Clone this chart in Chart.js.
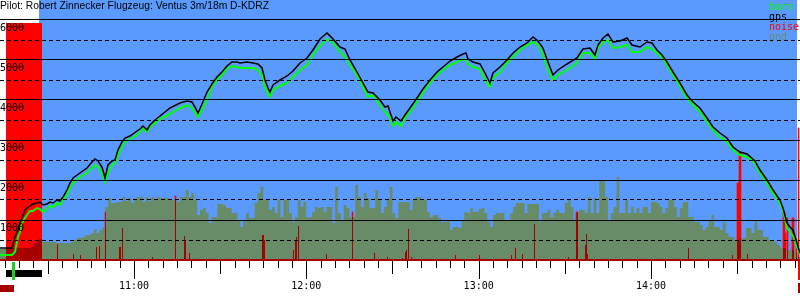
<!DOCTYPE html>
<html><head><meta charset="utf-8">
<script src="https://cdn.jsdelivr.net/npm/chart.js@4/dist/chart.umd.min.js"></script>
<style>html,body{margin:0;padding:0;background:#fff}canvas{display:block}</style>
</head><body>
<canvas id="c" width="800" height="300"></canvas>
<script>
// ---------- data (time = minutes since midnight, altitude in m) ----------
const trackTime = [613.35,617.53,618.57,619.62,620.31,621.01,622.05,622.75,623.79,624.84,626.23,627.28,628.32,629.71,630.76,631.80,633.20,634.24,635.28,636.68,637.72,638.77,641.20,643.64,645.38,646.43,647.47,648.86,649.91,650.95,652.34,653.39,654.43,655.83,656.87,658.61,661.05,662.09,663.14,664.53,665.57,667.31,669.06,672.54,676.02,678.46,680.20,681.24,682.29,683.68,685.42,687.16,688.90,690.64,692.38,694.12,695.86,696.91,699.35,701.43,703.17,704.57,705.61,706.66,707.35,708.40,710.83,713.27,715.36,717.80,720.23,722.32,724.76,727.20,729.29,731.72,733.47,735.21,737.64,739.73,741.47,743.21,745.65,747.39,748.44,749.13,750.18,751.22,752.96,754.35,756.10,758.53,760.62,763.06,765.50,767.59,770.02,772.46,774.55,775.59,776.29,778.03,780.47,782.21,783.95,784.99,787.43,789.87,791.96,794.39,796.83,798.92,800.66,802.40,804.14,805.88,807.62,810.75,814.23,816.32,818.76,820.50,821.55,823.29,825.03,826.77,829.21,831.65,833.39,836.17,838.61,840.35,842.09,843.83,845.57,847.66,850.10,852.54,854.63,857.06,859.50,861.59,864.03,866.46,868.55,870.99,873.43,876.21,877.95,880.39,882.48,884.91,885.96,887.35,888.39,889.44,890.83,891.88];
const baro = [125,125,200,575,700,925,1050,1125,1225,1225,1300,1275,1200,1275,1350,1325,1425,1375,1500,1625,1800,1925,2075,2175,2300,2375,2325,2175,1950,2175,2375,2425,2625,2825,2950,3025,3125,3200,3300,3200,3325,3425,3525,3650,3800,3875,3800,3675,3575,3750,4000,4325,4500,4625,4775,4850,4825,4800,4800,4800,4750,4625,4325,4150,4075,4250,4350,4425,4575,4750,4875,5125,5350,5525,5425,5200,5075,4875,4625,4325,4075,4125,3875,3700,3625,3550,3350,3450,3350,3550,3700,3950,4175,4425,4625,4750,4875,4950,5025,5000,4900,4825,4775,4500,4325,4550,4700,4925,5075,5250,5375,5450,5375,5125,4750,4500,4625,4750,4925,5175,5175,5025,5300,5450,5500,5300,5325,5375,5200,5200,5325,5275,5175,5075,4875,4625,4350,4050,3875,3700,3450,3250,3075,2950,2750,2625,2575,2425,2175,1925,1675,1425,1250,800,700,600,325,150];
const gps = [300,300,575,750,925,1050,1250,1300,1350,1400,1425,1450,1375,1400,1450,1425,1500,1475,1575,1750,1925,2050,2175,2300,2450,2525,2475,2325,2050,2375,2475,2500,2750,2950,3050,3100,3225,3275,3350,3250,3375,3500,3600,3800,3925,3975,3950,3825,3675,3900,4200,4400,4575,4700,4850,4950,4950,4925,4950,4925,4900,4800,4500,4300,4200,4375,4500,4600,4725,4925,5050,5250,5525,5675,5525,5325,5275,5000,4700,4425,4200,4175,4000,3825,3850,3700,3475,3575,3475,3625,3800,4050,4275,4500,4700,4825,4975,5075,5150,5175,5025,4950,4900,4675,4425,4675,4825,5000,5175,5325,5425,5575,5475,5300,4950,4625,4750,4900,5050,5275,5300,5125,5375,5550,5650,5450,5475,5550,5375,5325,5450,5425,5250,5125,4950,4700,4425,4125,3950,3800,3550,3325,3175,3050,2825,2700,2650,2475,2250,2000,1750,1500,1300,925,825,750,425,175];

const gndTime = [613,614,615,616,617,618,619,620,621,622,623,624,625,626,627,628,629,630,631,632,633,634,635,636,637,638,639,640,641,642,643,644,645,646,647,648,649,650,651,652,653,654,655,656,657,658,659,660,661,662,663,664,665,666,667,668,669,670,671,672,673,674,675,676,677,678,679,680,681,682,683,684,685,686,687,688,689,690,691,692,693,694,695,696,697,698,699,700,701,702,703,704,705,706,707,708,709,710,711,712,713,714,715,716,717,718,719,720,721,722,723,724,725,726,727,728,729,730,731,732,733,734,735,736,737,738,739,740,741,742,743,744,745,746,747,748,749,750,751,752,753,754,755,756,757,758,759,760,761,762,763,764,765,766,767,768,769,770,771,772,773,774,775,776,777,778,779,780,781,782,783,784,785,786,787,788,789,790,791,792,793,794,795,796,797,798,799,800,801,802,803,804,805,806,807,808,809,810,811,812,813,814,815,816,817,818,819,820,821,822,823,824,825,826,827,828,829,830,831,832,833,834,835,836,837,838,839,840,841,842,843,844,845,846,847,848,849,850,851,852,853,854,855,856,857,858,859,860,861,862,863,864,865,866,867,868,869,870,871,872,873,874,875,876,877,878,879,880,881,882,883,884,885,886,887,888,889,890,891,892];
const gnd = [275,275,300,300,300,300,300,300,300,300,
300,325,425,475,525,450,450,450,450,450,
425,425,425,425,425,450,500,550,550,575,
625,625,675,775,675,750,825,1325,1550,1425,
1425,1450,1450,1575,1475,1550,1425,1500,1575,1575,
1450,1575,1475,1575,1500,1575,1550,1550,1550,1500,
1500,1500,1450,1575,1575,1750,1575,1675,1500,1125,
1250,1300,1175,925,1075,1075,1400,1400,1375,1300,
1300,1175,1175,1000,825,1000,1175,1050,1050,1425,
1675,1825,1500,1500,1250,1325,1175,1500,1075,1500,
1500,1175,950,1075,1500,1325,1450,1075,1075,1200,
1325,1300,1325,1200,1325,1325,925,1825,1175,1000,
1375,1300,1075,1075,1875,1575,1325,1675,1550,1300,
1300,1750,1500,1175,1325,1500,1825,1175,1050,1450,
1450,1450,1450,1250,1500,1575,1575,1500,1500,1200,
1075,1125,1125,1050,950,950,1000,750,825,825,
800,1000,1200,1175,1300,1200,1200,1275,1300,1175,
950,825,1125,1175,1175,1175,1000,1000,1175,1325,
1425,1425,1425,1175,1400,1400,1400,1400,950,1175,
1175,1250,1075,1175,1250,1175,1175,1425,1500,1325,
1000,1175,1250,1250,1175,1575,1175,1550,1175,2000,
2000,1575,1000,1175,1325,2075,1175,1175,1500,1175,
1325,1175,1300,1175,1325,1325,1175,1450,1450,1425,
1325,1175,1300,1500,1500,1325,1075,1300,1450,1450,
1075,1075,950,950,875,750,825,1000,1125,825,
825,750,950,675,575,575,500,500,550,550,
800,800,675,1000,750,750,575,575,500,500,
450,375,300,300,250,250,250,175,75,75];

const noiseTime = [633.37,638.94,641.38,646.95,647.99,650.08,654.96,655.30,656.00,666.44,674.45,677.59,677.93,679.33,694.65,704.74,705.09,705.44,715.53,716.23,716.58,717.28,727.02,736.08,743.74,748.26,753.48,754.53,754.88,755.57,756.62,771.94,780.29,791.43,792.83,795.27,799.44,811.28,814.07,814.41,817.20,817.55,817.89,853.06,864.20,868.38,870.12,870.47,870.81,871.16,873.60,886.13,886.48,886.83,887.53,889.27,889.62,890.66,891.36];
const noise = [400,150,125,325,350,1200,325,325,800,75,1600,600,500,175,25,625,625,500,250,500,575,850,150,1200,175,75,50,200,250,775,75,125,125,125,300,150,900,75,1200,1200,375,650,150,300,25,125,1925,1925,2700,2700,150,1200,1200,675,1050,1050,1050,500,3300];

const hourTicks = [660, 720, 780, 840];
const hourLabels = ['11:00', '12:00', '13:00', '14:00'];
const altTicks = [1000, 2000, 3000, 4000, 5000, 6000];
const altLabels = ['1000', '2000', '3000', '4000', '5000', '6000'];
const legendNames = ['baro', 'gps', 'noise', 'gnd'];
const titleText = 'Pilot: Robert Zinnecker Flugzeug: Ventus 3m/18m D-KDRZ';

// ---------- axis range / phases ----------
const T_MIN = 613.35, T_MAX = 891.88;
const ENGINE_START = 615.44, ENGINE_END = 627.97;   // red band / black bar
const BLUE_START = 626.93, BLUE_END = 890.84;
const TAKEOFF = 618.05, LANDING = 891.36;

// ---------- styles ----------
const BLUE = '#5a9aff', RED = '#ff0000', DARKRED = '#a60000', OLIVE = '#688c68';
const GREEN = '#00ff00';
const legendColors = [GREEN, '#000000', RED, OLIVE];
const MONO = '10px "DejaVu Sans Mono", monospace';

function gndFill(ctx) {
  const chart = ctx.chart, ca = chart.chartArea;
  if (!ca) return OLIVE;
  const xs = chart.scales.x;
  const w = ca.right - ca.left;
  const fa = Math.min(1, Math.max(0, (xs.getPixelForValue(ENGINE_START) - ca.left) / w));
  const fb = Math.min(1, Math.max(0, (xs.getPixelForValue(ENGINE_END) - ca.left) / w));
  const g = chart.ctx.createLinearGradient(ca.left, 0, ca.right, 0);
  g.addColorStop(0, OLIVE); g.addColorStop(fa, OLIVE);
  g.addColorStop(fa, DARKRED); g.addColorStop(fb, DARKRED);
  g.addColorStop(fb, OLIVE); g.addColorStop(1, OLIVE);
  return g;
}

const NOISE_IDX = 2, GND_IDX = 3;

const decor = {
  id: 'decor',
  beforeDraw(chart) {
    const ctx = chart.ctx, xs = chart.scales.x, ys = chart.scales.y;
    const base = ys.getPixelForValue(0);
    ctx.save();
    ctx.fillStyle = '#fff'; ctx.fillRect(0, 0, chart.width, chart.height);
    const b0 = Math.round(xs.getPixelForValue(BLUE_START)), b1 = Math.round(xs.getPixelForValue(BLUE_END));
    ctx.fillStyle = BLUE; ctx.fillRect(b0, 0, b1 - b0, base);
    const r0 = Math.round(xs.getPixelForValue(ENGINE_START)), r1 = Math.round(xs.getPixelForValue(ENGINE_END));
    const rt = Math.round(ys.getPixelForValue(5925));
    ctx.fillStyle = RED; ctx.fillRect(r0, rt, r1 - r0, base - rt);
    ctx.restore();
  },
  afterDatasetDraw(chart, args) {
    if (args.index !== GND_IDX) return;
    const ctx = chart.ctx;
    const pts = chart.getDatasetMeta(GND_IDX).data;
    const base = chart.scales.y.getPixelForValue(0);
    ctx.save();
    ctx.beginPath();
    ctx.moveTo(pts[0].x, base);
    for (let i = 0; i < pts.length; i++) {
      ctx.lineTo(pts[i].x, pts[i].y);
      const nx = i + 1 < pts.length ? pts[i + 1].x : pts[i].x;
      ctx.lineTo(nx, pts[i].y);
    }
    ctx.lineTo(pts[pts.length - 1].x, base);
    ctx.closePath();
    ctx.clip();
    ctx.fillStyle = DARKRED;
    chart.getDatasetMeta(NOISE_IDX).data.forEach(b => {
      ctx.fillRect(b.x - b.width / 2, b.y, b.width, b.base - b.y);
    });
    ctx.restore();
  },
  afterDraw(chart) {
    const ctx = chart.ctx, xs = chart.scales.x, ys = chart.scales.y;
    const base = Math.round(ys.getPixelForValue(0));
    ctx.save();
    // baseline
    ctx.fillStyle = DARKRED;
    ctx.fillRect(0, base - 1, chart.width, 2);
    // time ticks
    ctx.strokeStyle = '#000'; ctx.lineWidth = 1;
    for (let t = 615; t <= T_MAX; t += 5) {
      const px = Math.round(xs.getPixelForValue(t)) + 0.5;
      const len = (t % 60 === 0) ? 18 : (t % 30 === 0 ? 13 : 7);
      ctx.beginPath(); ctx.moveTo(px, base + 1); ctx.lineTo(px, base + 1 + len); ctx.stroke();
    }
    ctx.font = MONO; ctx.fillStyle = '#000'; ctx.textAlign = 'center'; ctx.textBaseline = 'alphabetic';
    hourTicks.forEach((t, i) => ctx.fillText(hourLabels[i], xs.getPixelForValue(t), base + 29));
    // altitude labels
    ctx.textAlign = 'left';
    altTicks.forEach((v, i) => ctx.fillText(altLabels[i], 0, ys.getPixelForValue(v) + 11));
    // title
    ctx.font = '10.3px "Liberation Sans", Arial, sans-serif';
    ctx.fillText(titleText, 0, 9);
    // legend
    ctx.font = MONO;
    legendNames.forEach((n, i) => { ctx.fillStyle = legendColors[i]; ctx.fillText(n, 769, 10 + i * 10); });
    // phase markers under the axis
    const e0 = Math.round(xs.getPixelForValue(ENGINE_START)), e1 = Math.round(xs.getPixelForValue(ENGINE_END));
    ctx.fillStyle = '#000'; ctx.fillRect(e0, base + 10, e1 - e0, 7);
    const tk = Math.round(xs.getPixelForValue(TAKEOFF));
    ctx.fillStyle = '#1fcc1f'; ctx.fillRect(tk - 1, base + 2, 3, 18);
    ctx.fillStyle = DARKRED; ctx.fillRect(0, base + 25, tk + 1, 7);
    const ld = Math.round(xs.getPixelForValue(LANDING));
    ctx.fillStyle = RED; ctx.fillRect(ld - 1, base + 1, 2, 19);
    ctx.fillStyle = DARKRED; ctx.fillRect(ld - 1, base + 23, 3, 10);
    ctx.restore();
  }
};

const xy = (ts, vs) => ts.map((t, i) => ({ x: t, y: vs[i] }));

new Chart(document.getElementById('c'), {
  type: 'line',
  data: {
    datasets: [
      { label: 'baro', data: xy(trackTime, baro), borderColor: GREEN, borderWidth: 2, pointRadius: 0, fill: false, order: 2 },
      { label: 'gps', data: xy(trackTime, gps), borderColor: '#000', borderWidth: 1.5, pointRadius: 0, fill: false, order: 1 },
      { type: 'bar', label: 'noise', data: xy(noiseTime, noise), backgroundColor: RED, barThickness: 1, grouped: false, order: 4 },
      { label: 'gnd', data: xy(gndTime, gnd), stepped: true, fill: 'origin', borderColor: 'rgba(0,0,0,0)', borderWidth: 1, backgroundColor: gndFill, pointRadius: 0, order: 3 }
    ]
  },
  options: {
    responsive: false, animation: false, devicePixelRatio: 1,
    layout: { padding: { left: 0, right: 0, top: 0, bottom: 40 } },
    plugins: { legend: { display: false }, tooltip: { enabled: false }, title: { display: false } },
    scales: {
      x: { type: 'linear', min: T_MIN, max: T_MAX, display: false, offset: false },
      y: {
        type: 'linear', min: 0, max: 6500, display: true, position: 'left',
        ticks: { display: false, stepSize: 500 },
        grid: {
          drawTicks: false, z: 1, lineWidth: 1,
          color: c => (c.tick && c.tick.value > 0 && c.tick.value <= 6000) ? '#000' : 'rgba(0,0,0,0)'
        },
        border: { display: false, dash: c => (c.tick && c.tick.value % 1000 === 0) ? [] : [4, 3] }
      }
    }
  },
  plugins: [decor]
});
</script>
</body></html>
